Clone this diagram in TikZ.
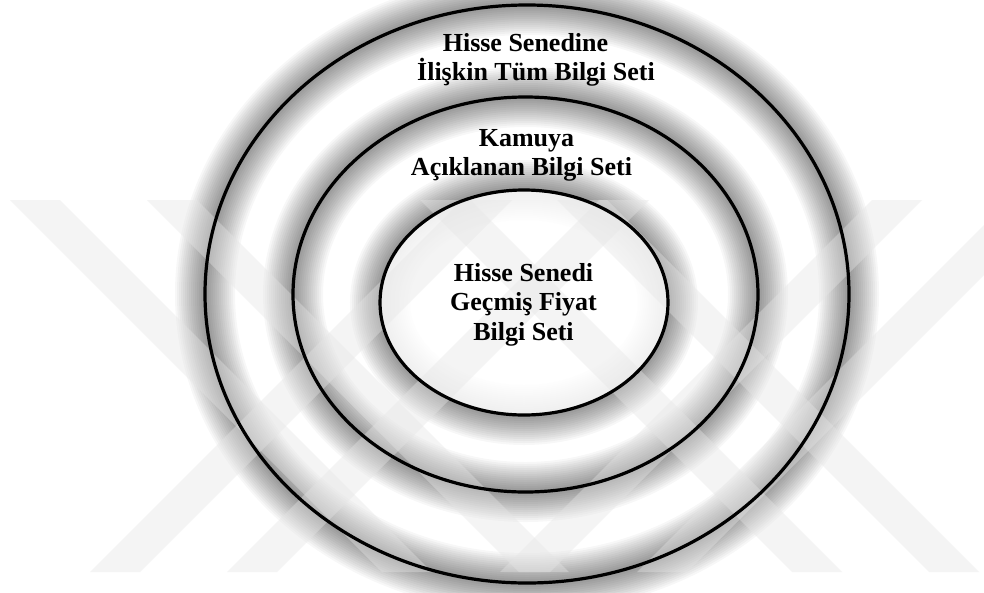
\documentclass[tikz,border=0pt]{standalone}
\usepackage{fontspec}
\setmainfont{Liberation Serif}
\usetikzlibrary{shapes.geometric}
\tikzset{
  glowline/.style={draw=black, draw opacity=0.03},
  ring/.style={draw=black, line width=3.2pt, ellipse, inner sep=0pt, outer sep=0pt},
  band/.style={fill=black!10, fill opacity=0.4},
  lbl/.style={font=\fontsize{26}{29}\selectfont\bfseries, anchor=base, inner sep=0pt},
}
\begin{document}
\begin{tikzpicture}[x=1pt,y=-1pt]
\useasboundingbox (0,0) rectangle (984,592);
\fill[white] (0,0) rectangle (984,592);
\coordinate (co) at (527,294);
\coordinate (cm) at (525.5,294.5);
\coordinate (ci) at (524,302.5);
% soft glow around each ring
\foreach \w in {4,8,...,60} {
  \draw[glowline, line width=\w pt] (co) ellipse [x radius=322pt, y radius=289pt];
  \draw[glowline, line width=\w pt] (cm) ellipse [x radius=232.5pt, y radius=197.5pt];
  \draw[glowline, line width=\w pt] (ci) ellipse [x radius=144pt, y radius=112.5pt];
}
\fill[white, fill opacity=0.85] (ci) ellipse [x radius=144pt, y radius=112.5pt];
% watermark bands
\fill[band] (10,200) -- (60,200) -- (432,572) -- (382,572) -- cycle;
\fill[band] (147,200) -- (197,200) -- (569,572) -- (519,572) -- cycle;
\fill[band] (90,572) -- (140,572) -- (512,200) -- (462,200) -- cycle;
\fill[band] (227,572) -- (277,572) -- (649,200) -- (599,200) -- cycle;
\fill[band] (872,200) -- (922,200) -- (550,572) -- (500,572) -- cycle;
\fill[band] (1009,200) -- (1059,200) -- (687,572) -- (637,572) -- cycle;
\fill[band] (792,572) -- (842,572) -- (470,200) -- (420,200) -- cycle;
\fill[band] (929,572) -- (979,572) -- (607,200) -- (557,200) -- cycle;
% rings
\node[ring, minimum width=644pt, minimum height=578pt] (outer) at (co) {};
\node[ring, minimum width=465pt, minimum height=395pt] (middle) at (cm) {};
\node[ring, minimum width=288pt, minimum height=225pt] (inner) at (ci) {};
% labels
\node[lbl] (t1) at (525.5,51.7) {Hisse Senedine};
\node[lbl] (t2) at (536,80) {İlişkin Tüm Bilgi Seti};
\node[lbl] (t3) at (526.5,146.7) {Kamuya};
\node[lbl] (t4) at (521.5,175) {Açıklanan Bilgi Seti};
\node[lbl] (t5) at (523.5,281.7) {Hisse Senedi};
\node[lbl] (t6) at (523.5,310) {Geçmiş Fiyat};
\node[lbl] (t7) at (523.5,340) {Bilgi Seti};
\end{tikzpicture}
\end{document}
